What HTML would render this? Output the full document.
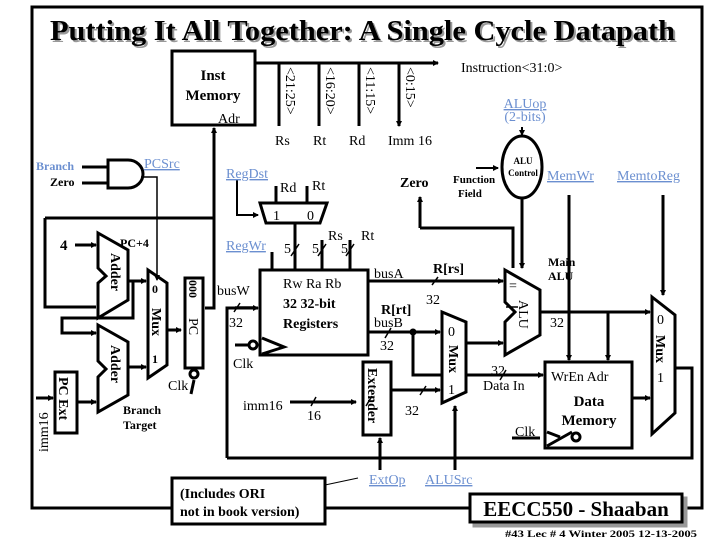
<!DOCTYPE html>
<html><head><style>
html,body{margin:0;padding:0;background:#fff;}
svg{display:block;font-family:"Liberation Serif",serif;}
.b{font-weight:bold}
.bl{fill:#6b8fd0;text-decoration:underline}
</style></head><body>
<svg width="720" height="540" viewBox="0 0 720 540" xmlns="http://www.w3.org/2000/svg">
<defs><marker id="a" markerWidth="6" markerHeight="6" refX="5" refY="3" orient="auto" markerUnits="userSpaceOnUse"><path d="M0,0L6,3L0,6z" fill="#000"/></marker></defs>
<rect width="720" height="540" fill="#fff"/>
<!-- frame -->
<rect x="32" y="7" width="670" height="501" fill="none" stroke="#000" stroke-width="3"/>
<text x="50" y="40" textLength="625" lengthAdjust="spacingAndGlyphs" font-size="28" class="b" fill="#999" transform="translate(2,2)">Putting It All Together: A Single Cycle Datapath</text>
<text x="50" y="40" textLength="625" lengthAdjust="spacingAndGlyphs" font-size="28" class="b">Putting It All Together: A Single Cycle Datapath</text>

<g stroke="#000" stroke-width="3" fill="none">
<rect x="172" y="51" width="83" height="74" fill="#fff"/>
<path d="M255,63H438" marker-end="url(#a)"/>
<path d="M279,63V126M319,63V126M359,63V126M399,63V126" marker-end="url(#a)"/>
<path d="M214,218V128" marker-end="url(#a)"/>
<path d="M45,218H214M205,308H214V218M45,218V307H96" />
<polygon points="98,233 128,250 128,300 98,318 98,283 106,276 98,268" fill="#fff"/>
<path d="M75,245H96" marker-end="url(#a)"/>
<path d="M128,281H146" marker-end="url(#a)"/>
<path d="M133,281V318H62V333H96" marker-end="url(#a)"/>
<polygon points="98,325 128,342 128,395 98,412 98,377 106,369 98,361" fill="#fff"/>
<path d="M128,367H146" marker-end="url(#a)"/>
<path d="M77,402H96" marker-end="url(#a)"/>
<polygon points="148,270 167,283 167,365 148,378" fill="#fff"/>
<path d="M167,330H181" marker-end="url(#a)"/>
<rect x="185" y="278" width="18" height="90" fill="#fff"/>
<path d="M194,380L191,394"/>
<rect x="55" y="372" width="22" height="61" fill="#fff"/>
<path d="M36,398H53" marker-end="url(#a)"/>
<path d="M82,167H108M82,183H108"/>
<path d="M108,160H128A15,14 0 0 1 128,188H108Z" fill="#fff"/>
</g>
<path d="M141,177H157V280" stroke="#000" stroke-width="1.5" fill="none" marker-end="url(#a)"/>
<circle cx="194" cy="374" r="4" fill="#fff" stroke="#000" stroke-width="3"/>

<g stroke="#000" stroke-width="3" fill="none">
<polygon points="260,203 327,203 320,223 266,223" fill="#fff"/>
<path d="M276,186V203M307,186V203"/>
<path d="M295,223V270M272,252V270M322,240V270M350,240V270"/>
<rect x="260" y="270" width="108" height="85" fill="#fff"/>
<path d="M262,338L284,347L262,354"/>
<path d="M227,458V308H258" marker-end="url(#a)"/>
<path d="M227,458H692V368H675"/>
<path d="M290,402H356" marker-end="url(#a)"/>
<rect x="363" y="362" width="28" height="73" fill="#fff"/>
<path d="M380,470V438" marker-end="url(#a)"/>
<path d="M391,390H440" marker-end="url(#a)"/>
<path d="M368,281H503" marker-end="url(#a)"/>
<path d="M368,332H440" marker-end="url(#a)"/>
<path d="M413,332V375H543" marker-end="url(#a)"/>
<polygon points="442,312 466,322 466,392 442,403" fill="#fff"/>
<path d="M455,470V406" marker-end="url(#a)"/>
<path d="M466,343H503" marker-end="url(#a)"/>
<polygon points="505,270 540,290 540,335 505,355 505,322 515,312 505,302" fill="#fff"/>
<path d="M420,228V197" marker-end="url(#a)"/>
<path d="M420,228H513V268"/>
<path d="M522,198V268" marker-end="url(#a)"/>
<path d="M540,312H650" marker-end="url(#a)"/>
<path d="M608,312V360" marker-end="url(#a)"/>
<path d="M569,195V360" marker-end="url(#a)"/>
<path d="M663,195V295" marker-end="url(#a)"/>
<rect x="545" y="362" width="87" height="86" fill="#fff"/>
<path d="M512,438H540"/>
<path d="M547,446L572,432M547,432L560,437"/>
<path d="M632,398H650" marker-end="url(#a)"/>
<polygon points="652,297 675,315 675,413 652,434" fill="#fff"/>
<rect x="172" y="478" width="153" height="46" fill="#fff"/>
<rect x="474" y="498" width="212" height="28" fill="#999" stroke="#999"/>
<rect x="470" y="494" width="212" height="28" fill="#fff"/>
</g>
<path d="M325,485L358,478" stroke="#000" stroke-width="1"/>
<path d="M235,307H255M506,307H518" stroke="#000" stroke-width="1.5"/>
<circle cx="253" cy="345" r="4" fill="#fff" stroke="#000" stroke-width="3"/>
<path d="M235,345H249" stroke="#000" stroke-width="3"/>
<circle cx="576" cy="437" r="4" fill="#fff" stroke="#000" stroke-width="3"/>
<circle cx="413" cy="332" r="3.5" fill="#000"/>
<ellipse cx="522" cy="167" rx="20" ry="31" fill="#fff" stroke="#000" stroke-width="3"/>
<path d="M522,127V135" stroke="#000" stroke-width="2" marker-end="url(#a)"/>
<path d="M476,168H498" stroke="#000" stroke-width="2" marker-end="url(#a)"/>
<path d="M237,180V215H258" stroke="#000" stroke-width="2" fill="none" marker-end="url(#a)"/>
<g stroke="#000" stroke-width="1.5">
<path d="M291,256L299,244M318,256L326,244M346,256L354,244M234,312L240,303M432,285L438,277M385,338L391,328M366,406L372,396M500,380L506,370M311,406L316,397M420,395L426,386"/>
</g>

<g font-size="14">
<text x="213" y="80" text-anchor="middle" class="b" font-size="15">Inst</text>
<text x="213" y="100" text-anchor="middle" class="b" font-size="15">Memory</text>
<text x="218" y="123" font-size="14">Adr</text>
<text x="461" y="72">Instruction&lt;31:0&gt;</text>
<text transform="translate(286,67) rotate(90)">&lt;21:25&gt;</text>
<text transform="translate(326,67) rotate(90)">&lt;16:20&gt;</text>
<text transform="translate(366,67) rotate(90)">&lt;11:15&gt;</text>
<text transform="translate(406,67) rotate(90)">&lt;0:15&gt;</text>
<text x="275" y="145">Rs</text>
<text x="313" y="145">Rt</text>
<text x="349" y="145">Rd</text>
<text x="388" y="145">Imm 16</text>
<text x="525" y="108" text-anchor="middle" class="bl">ALUop</text>
<text x="525" y="121" text-anchor="middle" fill="#6b8fd0">(2-bits)</text>
<text x="523" y="164" text-anchor="middle" class="b" font-size="9">ALU</text>
<text x="523" y="176" text-anchor="middle" class="b" font-size="9">Control</text>
<text x="453" y="183" class="b" font-size="11">Function</text>
<text x="458" y="197" class="b" font-size="11">Field</text>
<text x="400" y="187" class="b">Zero</text>
<text x="547" y="180" class="bl">MemWr</text>
<text x="617" y="180" class="bl">MemtoReg</text>
<text x="36" y="170" class="b" font-size="12" fill="#6b8fd0">Branch</text>
<text x="50" y="186" class="b" font-size="12">Zero</text>
<text x="144" y="168" class="bl">PCSrc</text>
<text x="226" y="178" class="bl">RegDst</text>
<text x="280" y="192">Rd</text>
<text x="312" y="190">Rt</text>
<text x="273" y="220">1</text>
<text x="307" y="220">0</text>
<text x="226" y="250" class="bl">RegWr</text>
<text x="284" y="253">5</text>
<text x="312" y="253">5</text>
<text x="341" y="253">5</text>
<text x="328" y="240">Rs</text>
<text x="361" y="240">Rt</text>
<text x="283" y="288">Rw  Ra  Rb</text>
<text x="283" y="308" class="b">32 32-bit</text>
<text x="283" y="328" class="b">Registers</text>
<text x="217" y="295">busW</text>
<text x="229" y="327">32</text>
<text x="233" y="368">Clk</text>
<text x="243" y="410">imm16</text>
<text x="307" y="420">16</text>
<text x="374" y="278">busA</text>
<text x="433" y="273" class="b">R[rs]</text>
<text x="426" y="304">32</text>
<text x="381" y="314" class="b">R[rt]</text>
<text x="374" y="327">busB</text>
<text x="380" y="350">32</text>
<text x="405" y="415">32</text>
<text x="491" y="375">32</text>
<text x="483" y="390">Data In</text>
<text x="550" y="327">32</text>
<text x="548" y="266" class="b" font-size="12">Main</text>
<text x="548" y="280" class="b" font-size="12">ALU</text>
<text x="509" y="290">=</text>
<text transform="translate(519,300) rotate(90)">ALU</text>
<text x="448" y="336">0</text>
<text transform="translate(449,345) rotate(90)" class="b">Mux</text>
<text x="448" y="394">1</text>
<text transform="translate(368,368) rotate(90)" class="b">Extender</text>
<text x="369" y="484" class="bl">ExtOp</text>
<text x="425" y="484" class="bl">ALUSrc</text>
<text x="551" y="381">WrEn  Adr</text>
<text x="589" y="406" text-anchor="middle" class="b" font-size="15">Data</text>
<text x="589" y="425" text-anchor="middle" class="b" font-size="15">Memory</text>
<text x="515" y="436">Clk</text>
<text x="657" y="324">0</text>
<text transform="translate(656,335) rotate(90)" class="b">Mux</text>
<text x="657" y="382">1</text>
<text x="60" y="250" class="b" font-size="15">4</text>
<text x="120" y="247" class="b" font-size="12">PC+4</text>
<text transform="translate(111,253) rotate(90)" class="b">Adder</text>
<text transform="translate(111,345) rotate(90)" class="b">Adder</text>
<text x="152" y="293" class="b" font-size="12">0</text>
<text transform="translate(152,308) rotate(90)" class="b">Mux</text>
<text x="152" y="363" class="b" font-size="12">1</text>
<text transform="translate(189,280) rotate(90)" class="b" font-size="12">000</text>
<text transform="translate(189,318) rotate(90)">PC</text>
<text x="168" y="390">Clk</text>
<text transform="translate(59,377) rotate(90)" class="b">PC Ext</text>
<text transform="translate(48,452) rotate(-90)">imm16</text>
<text x="123" y="414" class="b" font-size="12">Branch</text>
<text x="123" y="429" class="b" font-size="12">Target</text>
<text x="180" y="498" class="b">(Includes ORI</text>
<text x="180" y="516" class="b">not in book version)</text>
<text x="576" y="516" text-anchor="middle" class="b" font-size="21">EECC550 - Shaaban</text>
<text x="505" y="537" class="b" font-size="9" textLength="192" lengthAdjust="spacingAndGlyphs">#43   Lec # 4   Winter 2005   12-13-2005</text>
</g>
</svg>
</body></html>
